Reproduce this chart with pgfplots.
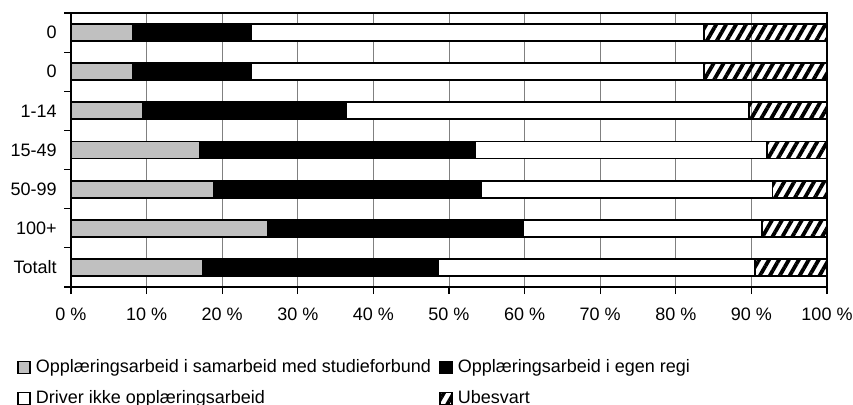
\documentclass[border=0pt]{standalone}
\usepackage{pgfplots}
\pgfplotsset{compat=1.18}
\usepackage{pgfplotstable}
\usepackage{fontspec}
\setmainfont{Liberation Sans}
\usetikzlibrary{patterns.meta}
\definecolor{barg}{HTML}{C0C0C0}
\tikzset{hatchfill/.style={pattern={Lines[angle=60,distance=4.3bp,line width=1.9bp]}, pattern color=black}}

\pgfplotstableread{
y  g     b     w     h
0  17.4  31.1  42.0  9.5
1  26.0  33.8  31.6  8.6
2  18.9  35.4  38.5  7.2
3  17.1  36.4  38.6  7.9
4  9.5   26.9  53.3  10.3
5  8.2   15.6  59.9  16.3
6  8.2   15.6  59.9  16.3
}\data

\begin{document}
\begin{tikzpicture}[font=\fontsize{9bp}{10.8bp}\selectfont]
\begin{axis}[
  at={(0,0)}, anchor=south west,
  scale only axis, width=378bp, height=137bp,
  xbar stacked, bar width=8.5bp,
  xmin=0, xmax=100, ymin=-0.5, ymax=6.5,
  /pgf/number format/assume math mode=true,
  xtick={0,10,...,100},
  xticklabels={0 \%,10 \%,20 \%,30 \%,40 \%,50 \%,60 \%,70 \%,80 \%,90 \%,100 \%},
  xticklabel style={inner sep=0pt},
  xticklabel shift=7bp,
  ytick={-0.5,0.5,1.5,2.5,3.5,4.5,5.5,6.5},
  yticklabels={,,,,,,,,},
  extra y ticks={0,1,2,3,4,5,6},
  extra y tick labels={Totalt,100+,50-99,15-49,1-14,0,0},
  extra y tick style={major tick length=0pt, yticklabel style={inner sep=0pt, xshift=-7bp}},
  tick align=outside, tick pos=left,
  major tick length=3.5bp,
  tick style={black, line width=0.6bp},
  axis line style={black, line width=0.6bp},
  xmajorgrids, major grid style={gray, line width=0.5bp},
  legend columns=2, legend cell align=left,
  legend style={draw=none, at={(0,0)}, anchor=north west, xshift=-27bp, yshift=-36bp,
    inner sep=0pt, outer sep=0pt, row sep=7bp,
    nodes={inner sep=0pt, text height=6.6bp, text depth=1.9bp},
    /tikz/every odd column/.append style={column sep=2.5bp},
    /tikz/every even column/.append style={column sep=4bp}},
  legend image code/.code={\draw[#1, line width=0.9bp] (0bp,-3bp) rectangle (6bp,3bp);},
  every axis plot/.append style={draw=black, line width=0.9bp},
]
\addplot[fill=barg] table[x=g, y=y]{\data};
\addplot[fill=black] table[x=b, y=y]{\data};
\addplot[fill=white] table[x=w, y=y]{\data};
\addplot[hatchfill] table[x=h, y=y]{\data};
\legend{Opplæringsarbeid i samarbeid med studieforbund, Opplæringsarbeid i egen regi, Driver ikke opplæringsarbeid, Ubesvart}
\end{axis}
\pgfresetboundingbox
\path[use as bounding box] (-35.5bp,-59bp) rectangle (391bp,143.5bp);
\end{tikzpicture}
\end{document}
